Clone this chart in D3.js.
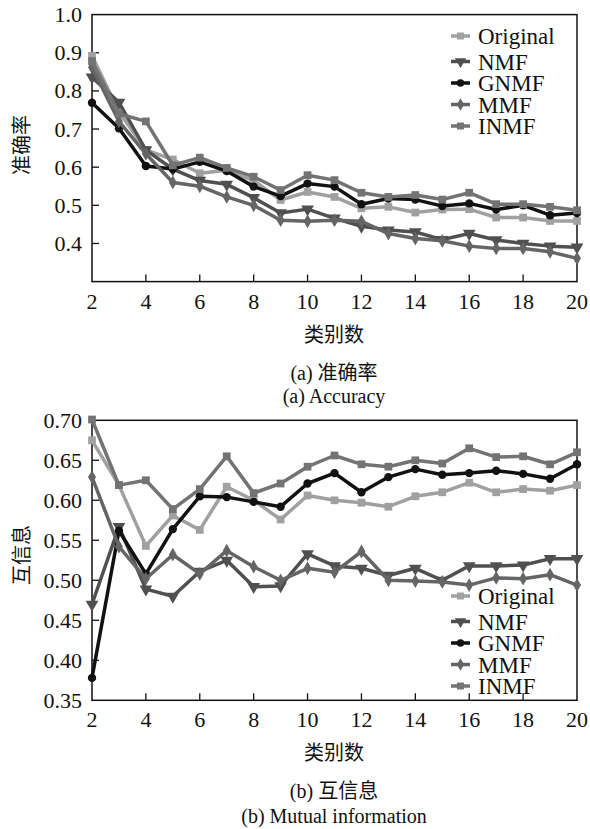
<!DOCTYPE html>
<html>
<head>
<meta charset="utf-8">
<script src="https://cdn.jsdelivr.net/npm/d3@7"></script>
<style>
  body { margin: 0; background: #fff; }
  text { font-family: "Liberation Serif", "Noto Sans CJK SC", serif; fill: #111; }
</style>
</head>
<body>
<div id="chart"></div>
<script>
// Category counts on the x axis
var classes = [2, 3, 4, 5, 6, 7, 8, 9, 10, 11, 12, 13, 14, 15, 16, 17, 18, 19, 20];
var xTicks = [2, 4, 6, 8, 10, 12, 14, 16, 18, 20];

// Series names
var names = ["Original", "NMF", "GNMF", "MMF", "INMF"];

// (a) accuracy values
var accOriginal = [0.892, 0.745, 0.645, 0.620, 0.584, 0.592, 0.565, 0.514, 0.535, 0.522, 0.492, 0.496, 0.481, 0.489, 0.490, 0.468, 0.468, 0.459, 0.459];
var accNMF      = [0.836, 0.770, 0.645, 0.595, 0.565, 0.555, 0.520, 0.480, 0.490, 0.466, 0.445, 0.435, 0.430, 0.410, 0.426, 0.409, 0.400, 0.393, 0.390];
var accGNMF     = [0.769, 0.702, 0.603, 0.595, 0.614, 0.590, 0.549, 0.524, 0.557, 0.549, 0.503, 0.518, 0.515, 0.498, 0.505, 0.489, 0.500, 0.474, 0.480];
var accMMF      = [0.862, 0.720, 0.635, 0.560, 0.550, 0.522, 0.500, 0.461, 0.458, 0.461, 0.458, 0.426, 0.413, 0.407, 0.393, 0.387, 0.387, 0.378, 0.361];
var accINMF     = [0.878, 0.740, 0.720, 0.605, 0.625, 0.598, 0.575, 0.540, 0.579, 0.566, 0.533, 0.522, 0.527, 0.515, 0.533, 0.503, 0.503, 0.496, 0.487];

// (b) mutual information values
var miOriginal = [0.675, 0.619, 0.543, 0.581, 0.563, 0.617, 0.600, 0.576, 0.606, 0.600, 0.597, 0.592, 0.605, 0.610, 0.622, 0.610, 0.614, 0.612, 0.619];
var miNMF      = [0.470, 0.567, 0.489, 0.480, 0.511, 0.525, 0.492, 0.493, 0.533, 0.518, 0.515, 0.506, 0.515, 0.500, 0.518, 0.518, 0.519, 0.527, 0.527];
var miGNMF     = [0.378, 0.562, 0.508, 0.564, 0.605, 0.604, 0.598, 0.592, 0.621, 0.634, 0.610, 0.629, 0.639, 0.632, 0.634, 0.637, 0.633, 0.627, 0.645];
var miMMF      = [0.629, 0.542, 0.502, 0.532, 0.508, 0.537, 0.517, 0.500, 0.515, 0.510, 0.536, 0.500, 0.499, 0.498, 0.494, 0.503, 0.502, 0.507, 0.494];
var miINMF     = [0.701, 0.619, 0.625, 0.589, 0.614, 0.655, 0.609, 0.621, 0.642, 0.656, 0.645, 0.642, 0.650, 0.646, 0.665, 0.654, 0.655, 0.645, 0.660];

// y tick labels (0.3 is not printed on the accuracy panel)
var accTicks = [0.4, 0.5, 0.6, 0.7, 0.8, 0.9, 1.0];
var miTicks = [0.35, 0.40, 0.45, 0.50, 0.55, 0.60, 0.65, 0.70];

// Look of each series
var colors = ["#a0a0a0", "#505050", "#111111", "#656565", "#737373"];
var shapes = [d3.symbolSquare, d3.symbolTriangle, d3.symbolCircle, d3.symbolDiamond, d3.symbolSquare];
var shapeSize = [60, 70, 55, 55, 60];

var W = 590, H = 829;
var svg = d3.select("#chart").append("svg")
    .attr("width", W)
    .attr("height", H);

// Draws one framed panel
function drawPanel(opt) {
  var x = d3.scaleLinear().domain([2, 20]).range([92, 577]);
  var y = d3.scaleLinear().domain(opt.domain).range([opt.bottom, opt.top]);
  var g = svg.append("g");

  // frame
  g.append("rect")
      .attr("x", x(2)).attr("y", opt.top)
      .attr("width", x(20) - x(2)).attr("height", opt.bottom - opt.top)
      .attr("fill", "none").attr("stroke", "#111").attr("stroke-width", 1.5);

  // inward ticks
  g.selectAll("line.xt").data(xTicks.slice(1, -1)).enter()
    .append("line")
      .attr("x1", function(d) { return x(d); }).attr("x2", function(d) { return x(d); })
      .attr("y1", opt.bottom).attr("y2", opt.bottom - 7)
      .attr("stroke", "#111").attr("stroke-width", 1.3);
  g.selectAll("line.yt").data(opt.tickMarks).enter()
    .append("line")
      .attr("x1", x(2)).attr("x2", x(2) + 7)
      .attr("y1", function(d) { return y(d); }).attr("y2", function(d) { return y(d); })
      .attr("stroke", "#111").attr("stroke-width", 1.3);

  // tick labels
  g.selectAll("text.xl").data(xTicks).enter()
    .append("text")
      .attr("x", function(d) { return x(d); })
      .attr("y", opt.bottom + 27)
      .attr("text-anchor", "middle")
      .style("font-size", "22px")
      .text(function(d) { return d; });
  g.selectAll("text.yl").data(opt.ticks).enter()
    .append("text")
      .attr("x", 82)
      .attr("y", function(d) { return y(d) + 7.5; })
      .attr("text-anchor", "end")
      .style("font-size", "22px")
      .text(function(d) { return d3.format(opt.fmt)(d); });

  // axis titles and captions
  g.append("text")
      .attr("transform", "translate(29," + opt.ylabY + ") rotate(-90)")
      .attr("text-anchor", "middle")
      .style("font-size", "20px")
      .style("font-family", "'Noto Sans CJK SC'")
      .text(opt.ylabel);
  g.append("text")
      .attr("x", 334).attr("y", opt.bottom + 60)
      .attr("text-anchor", "middle")
      .style("font-size", "20px")
      .style("font-family", "'Noto Sans CJK SC'")
      .text("类别数");
  g.append("text")
      .attr("x", 334).attr("y", opt.bottom + 98)
      .attr("text-anchor", "middle")
      .style("font-size", "20px")
      .text(opt.cap1);
  g.append("text")
      .attr("x", 334).attr("y", opt.bottom + opt.cap2dy)
      .attr("text-anchor", "middle")
      .style("font-size", "20px")
      .text(opt.cap2);

  var line = d3.line()
      .x(function(d, i) { return x(classes[i]); })
      .y(function(d) { return y(d); });

  // series lines + markers
  opt.series.forEach(function(s, k) {
    g.append("path")
        .datum(s)
        .attr("d", line)
        .attr("fill", "none")
        .attr("stroke", colors[k])
        .attr("stroke-width", 3.5)
        .attr("stroke-linejoin", "round");
    g.selectAll("path.m" + k).data(s).enter()
      .append("path")
        .attr("d", d3.symbol().type(shapes[k]).size(shapeSize[k]))
        .attr("transform", function(d, i) {
          return "translate(" + x(classes[i]) + "," + y(d) + ")" + (k == 1 ? " rotate(180)" : "");
        })
        .attr("fill", colors[k]);
  });

  // legend
  names.forEach(function(n, k) {
    var ly = opt.legY + k * 21.5 + (k > 0 ? 4 : 0);
    g.append("line")
        .attr("x1", 451).attr("x2", 470)
        .attr("y1", ly - 8).attr("y2", ly - 8)
        .attr("stroke", colors[k]).attr("stroke-width", 3.5);
    g.append("path")
        .attr("d", d3.symbol().type(shapes[k]).size(shapeSize[k] * 0.8))
        .attr("transform", "translate(460.5," + (ly - 8) + ")" + (k == 1 ? " rotate(180)" : ""))
        .attr("fill", colors[k]);
    g.append("text")
        .attr("x", 478).attr("y", ly)
        .style("font-size", "23px")
        .text(n);
  });
}

drawPanel({
  domain: [0.3, 1.0], top: 14.6, bottom: 281.6,
  ticks: accTicks, tickMarks: accTicks.slice(0, -1), fmt: ".1f",
  series: [accOriginal, accNMF, accGNMF, accMMF, accINMF],
  ylabel: "准确率", ylabY: 145,
  cap1: "(a)  准确率", cap2: "(a)  Accuracy", cap2dy: 121,
  legY: 44
});

drawPanel({
  domain: [0.35, 0.70], top: 420.3, bottom: 700.3,
  ticks: miTicks, tickMarks: miTicks.slice(1, -1), fmt: ".2f",
  series: [miOriginal, miNMF, miGNMF, miMMF, miINMF],
  ylabel: "互信息", ylabY: 555,
  cap1: "(b)  互信息", cap2: "(b)  Mutual information", cap2dy: 123,
  legY: 604
});
</script>
</body>
</html>
